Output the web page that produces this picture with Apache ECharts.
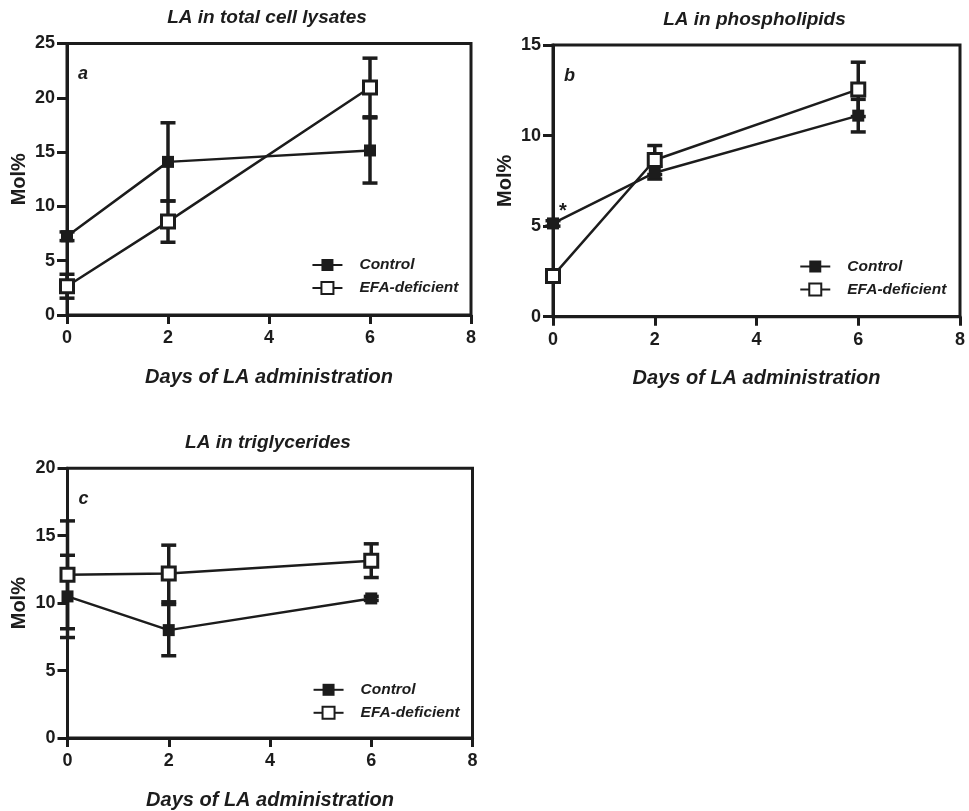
<!DOCTYPE html>
<html>
<head>
<meta charset="utf-8">
<script src="https://cdn.jsdelivr.net/npm/echarts@6/dist/echarts.min.js"></script>
<style>html,body{margin:0;padding:0;background:#fff;}#chart{width:969px;height:811px;}</style>
</head>
<body>
<div id="chart"></div>
<script>
// ---- data ----
const days = [0, 2, 6];
const xTicks = [0, 2, 4, 6, 8];

const totalControlMean = [7.25, 14.1, 15.15];
const totalControlErr  = [0.4, 3.6, 3.0];
const totalEfaMean     = [2.65, 8.6, 20.95];
const totalEfaErr      = [1.1, 1.9, 2.7];

const phosControlMean  = [5.15, 7.95, 11.1];
const phosControlErr   = [0.15, 0.35, 0.9];
const phosEfaMean      = [2.25, 8.65, 12.55];
const phosEfaErr       = [0.1, 0.8, 1.5];

const trigControlMean  = [10.5, 8.0, 10.35];
const trigControlErr   = [3.05, 1.9, 0.15];
const trigEfaMean      = [12.1, 12.2, 13.15];
const trigEfaErr       = [4.0, 2.1, 1.25];

const panelTitles = ['LA in total cell lysates', 'LA in phospholipids', 'LA in triglycerides'];
const panelLetters = ['a', 'b', 'c'];
const yMax = [25, 15, 20];
const yInterval = [5, 5, 5];
const seriesNames = ['Control', 'EFA-deficient'];
const xName = 'Days of LA administration';
const yName = 'Mol%';

// ---- layout ----
const INK = '#1c1c1c';
const FONT = '"Liberation Sans", Arial, Helvetica, sans-serif';
const grids = [
  {left: 67, top: 43.5, width: 404, height: 271.5},
  {left: 553, top: 45, width: 407, height: 271.7},
  {left: 67.5, top: 468.3, width: 405, height: 270.7}
];

const panels = [
  {c: totalControlMean, ce: totalControlErr, e: totalEfaMean, ee: totalEfaErr},
  {c: phosControlMean, ce: phosControlErr, e: phosEfaMean, ee: phosEfaErr},
  {c: trigControlMean, ce: trigControlErr, e: trigEfaMean, ee: trigEfaErr}
];

function errRender(params, api) {
  const x = api.value(0), lo = api.value(1), hi = api.value(2);
  const p1 = api.coord([x, lo]), p2 = api.coord([x, hi]);
  const hw = 7.5;
  const st = {stroke: INK, lineWidth: 3.5};
  return {type: 'group', children: [
    {type: 'line', shape: {x1: p1[0], y1: p1[1], x2: p2[0], y2: p2[1]}, style: st},
    {type: 'line', shape: {x1: p1[0] - hw, y1: p1[1], x2: p1[0] + hw, y2: p1[1]}, style: st},
    {type: 'line', shape: {x1: p2[0] - hw, y1: p2[1], x2: p2[0] + hw, y2: p2[1]}, style: st}
  ]};
}

const option = {
  backgroundColor: '#fff',
  animation: false,
  textStyle: {fontFamily: FONT},
  title: [], grid: [], xAxis: [], yAxis: [], legend: [], series: [], graphic: []
};

grids.forEach((g, i) => {
  option.grid.push(Object.assign({show: true, borderColor: INK, borderWidth: 3, backgroundColor: 'transparent'}, g));
  option.title.push({
    text: panelTitles[i],
    left: g.left + g.width / 2 - 2, top: g.top - 35,
    textAlign: 'center', padding: 0,
    textStyle: {fontFamily: FONT, fontSize: 19, fontWeight: 'bold', fontStyle: 'italic', color: INK}
  });
  option.xAxis.push({
    gridIndex: i, type: 'value', min: 0, max: 8, interval: 2,
    name: xName, nameLocation: 'middle', nameGap: 52,
    nameTextStyle: {fontFamily: FONT, fontSize: 20, fontWeight: 'bold', fontStyle: 'italic', color: INK},
    axisLine: {show: true, onZero: false, lineStyle: {color: INK, width: 3}},
    axisTick: {show: true, length: 9, lineStyle: {color: INK, width: 3}},
    axisLabel: {fontFamily: FONT, fontSize: 18, fontWeight: 'bold', color: INK, margin: 14},
    splitLine: {show: false}
  });
  option.yAxis.push({
    gridIndex: i, type: 'value', min: 0, max: yMax[i], interval: yInterval[i],
    name: yName, nameLocation: 'middle', nameGap: 38, nameRotate: 90,
    nameTextStyle: {fontFamily: FONT, fontSize: 20, fontWeight: 'bold', color: INK},
    axisLine: {show: true, onZero: false, lineStyle: {color: INK, width: 3}},
    axisTick: {show: true, length: 10, lineStyle: {color: INK, width: 3}},
    axisLabel: {fontFamily: FONT, fontSize: 18, fontWeight: 'bold', color: INK, margin: 12},
    splitLine: {show: false}
  });
  option.legend.push({
    data: seriesNames,
    orient: 'vertical', padding: 0,
    left: g.left + g.width * 0.61 - 2, top: g.top + 213.5,
    itemWidth: 30, itemHeight: 15, itemGap: 7,
    textStyle: {fontFamily: FONT, fontSize: 15.5, fontWeight: 'bold', fontStyle: 'italic', color: INK, padding: [0, 0, 0, 12]},
    selectedMode: false
  });
  option.graphic.push({
    type: 'text', left: g.left + 11, top: g.top + 22,
    style: {text: panelLetters[i], fontFamily: FONT, fontSize: 18, fontWeight: 'bold', fontStyle: 'italic', fill: INK}
  });

  const p = panels[i];
  const ctrlData = days.map((d, k) => {
    const item = {value: [d, p.c[k]]};
    if (i === 1 && k === 0) {
      item.label = {show: true, formatter: '*', position: 'top', offset: [10, 9],
        fontFamily: FONT, fontSize: 20, fontWeight: 'bold', color: INK};
    }
    return item;
  });
  const efaData = days.map((d, k) => [d, p.e[k]]);
  option.series.push({
    type: 'custom', xAxisIndex: i, yAxisIndex: i, renderItem: errRender, clip: false,
    encode: {x: 0, y: [1, 2]}, z: 1, silent: true,
    data: days.map((d, k) => [d, p.c[k] - p.ce[k], p.c[k] + p.ce[k]])
  });
  option.series.push({
    type: 'custom', xAxisIndex: i, yAxisIndex: i, renderItem: errRender, clip: false,
    encode: {x: 0, y: [1, 2]}, z: 1, silent: true,
    data: days.map((d, k) => [d, p.e[k] - p.ee[k], p.e[k] + p.ee[k]])
  });
  option.series.push({
    name: seriesNames[0], type: 'line', xAxisIndex: i, yAxisIndex: i, clip: false,
    symbol: 'rect', symbolSize: 12, z: 3,
    lineStyle: {color: INK, width: 2.5},
    itemStyle: {color: INK, borderColor: INK, borderWidth: 0},
    data: ctrlData
  });
  option.series.push({
    name: seriesNames[1], type: 'line', xAxisIndex: i, yAxisIndex: i, clip: false,
    symbol: 'rect', symbolSize: 13, z: 4,
    lineStyle: {color: INK, width: 2.5},
    itemStyle: {color: '#fff', borderColor: INK, borderWidth: 3},
    data: efaData
  });
});

const chart = echarts.init(document.getElementById('chart'), null, {renderer: 'canvas'});
chart.setOption(option);
</script>
</body>
</html>
